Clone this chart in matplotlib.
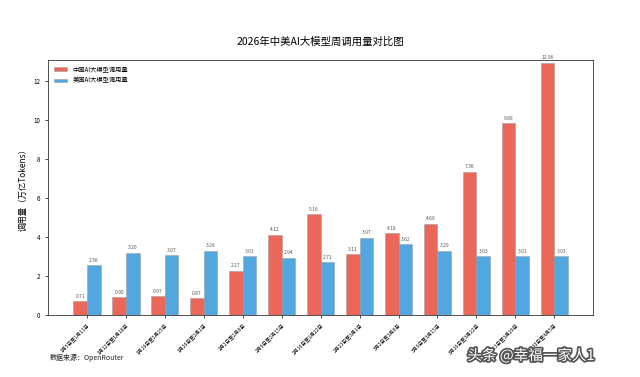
import numpy as np
import matplotlib.pyplot as plt
import matplotlib.patheffects as pe

plt.rcParams['font.family'] = ['Noto Sans CJK SC', 'DejaVu Sans']

weeks = ['1月5日至1月11日', '1月12日至1月18日', '1月19日至1月25日', '1月26日至2月1日',
         '2月2日至2月8日', '2月9日至2月15日', '2月16日至2月22日', '2月23日至3月1日',
         '3月2日至3月8日', '3月9日至3月15日', '3月16日至3月22日', '3月23日至3月29日',
         '3月30日至4月5日']
china = [0.71, 0.90, 0.97, 0.87, 2.27, 4.12, 5.16, 3.11, 4.18, 4.69, 7.36, 9.86, 12.96]
usa = [2.56, 3.20, 3.07, 3.29, 3.01, 2.94, 2.71, 3.97, 3.62, 3.29, 3.03, 3.01, 3.03]

fig = plt.figure(figsize=(6.4, 3.77), dpi=100)
ax = fig.add_axes([0.075, 0.165, 0.852, 0.676])

x = np.arange(len(weeks))
w = 0.35
b1 = ax.bar(x - w / 2, china, w, color='#e74c3c', alpha=0.85, edgecolor='#999999',
            linewidth=0.4, label='中国AI大模型调用量')
b2 = ax.bar(x + w / 2, usa, w, color='#3498db', alpha=0.85, edgecolor='#999999',
            linewidth=0.4, label='美国AI大模型调用量')

for bars in (b1, b2):
    for r in bars:
        h = r.get_height()
        ax.text(r.get_x() + r.get_width() / 2, h + 0.12, '%.2f' % h,
                ha='center', va='bottom', fontsize=3.5, color='#555555')

ax.set_xlim(-1, 13)
ax.set_ylim(0, 13.1)
ax.set_yticks(range(0, 13, 2))
ax.set_xticks(x)
ax.set_xticklabels(weeks, rotation=45, ha='right', rotation_mode='anchor', fontsize=3.6)
ax.tick_params(axis='y', labelsize=4.5, length=2, width=0.5)
ax.tick_params(axis='x', length=2, width=0.5)
for s in ax.spines.values():
    s.set_linewidth(0.6)
    s.set_color('#333333')

ax.set_ylabel('调用量（万亿Tokens）', fontsize=6)
ax.set_title('2026年中美AI大模型周调用量对比图', fontsize=7.5, pad=11)
ax.legend(loc='upper left', fontsize=4.5, frameon=False, handlelength=2.2, handleheight=0.6)

fig.text(0.078, 0.045, '数据来源：OpenRouter', fontsize=5, color='#222222')
fig.text(0.83, 0.045, '头条 @幸福一家人1', fontsize=10.5, color='white', ha='center',
         path_effects=[pe.withStroke(linewidth=2.5, foreground='#555555')])

fig.savefig('out.png', dpi=100)
